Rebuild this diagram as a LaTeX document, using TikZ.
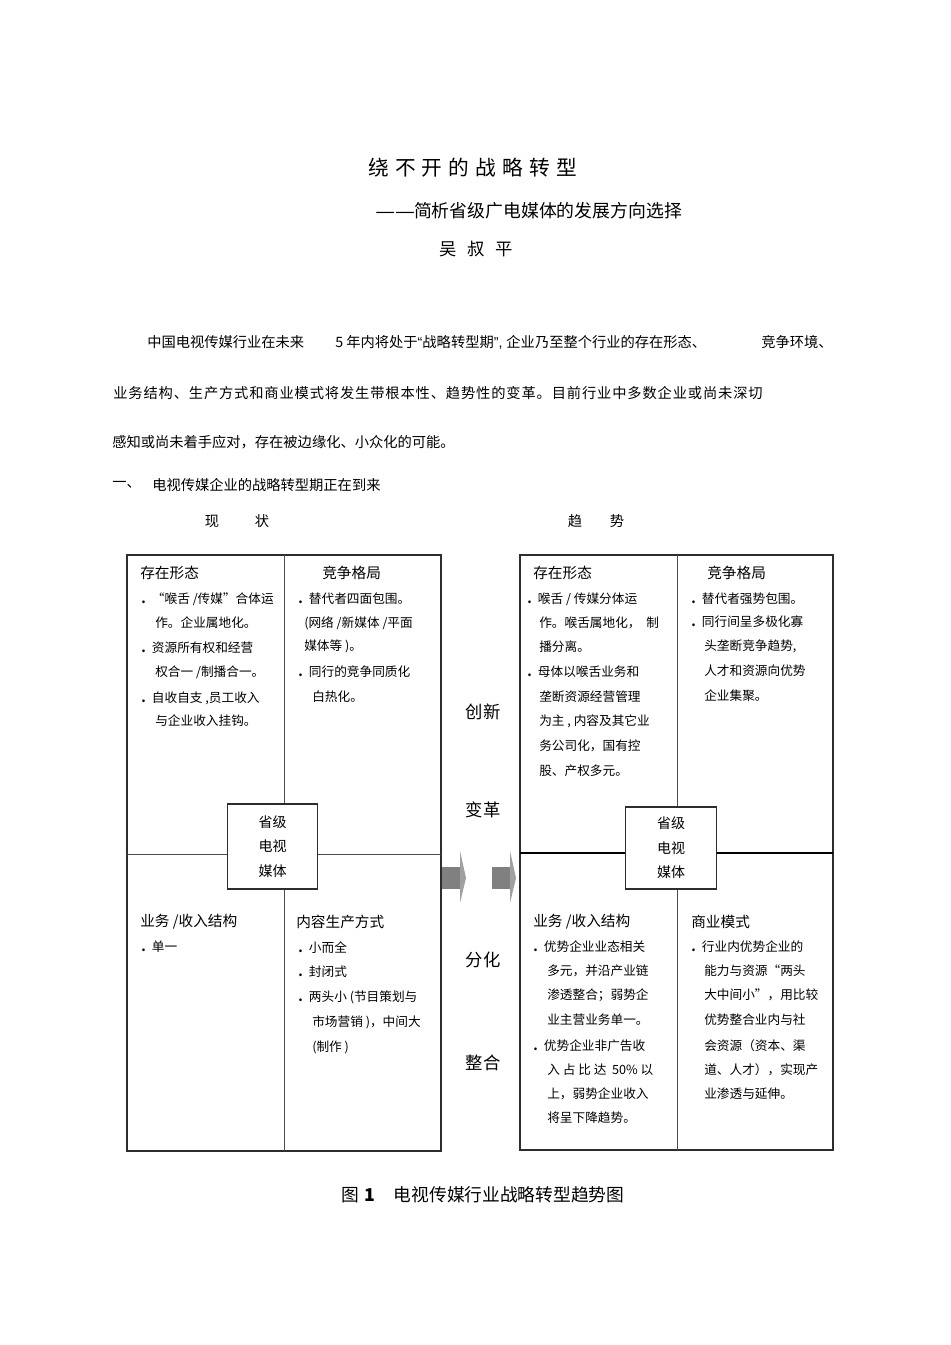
\documentclass[tikz,border=0pt]{standalone}
\usepackage{fontspec}
\setmainfont{Noto Sans CJK SC}
\newfontfamily\titlefont[LetterSpace=30]{Noto Sans CJK SC}
\newfontfamily\widefont[LetterSpace=6]{Noto Sans CJK SC}
\newfontfamily\latinfont{Liberation Sans}
\definecolor{rulegray}{RGB}{45,45,45}
\definecolor{arrowgray}{RGB}{128,128,128}
\usetikzlibrary{positioning}
\newcommand{\itm}{\makebox[8pt][l]{\textbf{.}}}

\begin{document}
\begin{tikzpicture}[x=0.75pt, y=-0.75pt,
    every node/.style={inner sep=0pt},
    para/.style={anchor=west, font=\fontsize{10.7}{13}\selectfont},
    boxtxt/.style={anchor=west, font=\fontsize{9.5}{11}\selectfont},
    boxhead/.style={anchor=west, font=\fontsize{11}{13}\selectfont},
    midlbl/.style={font=\fontsize{13}{15}\selectfont},
    core/.style={draw=rulegray, line width=0.9pt, fill=white, minimum width=68pt, align=center, font=\fontsize{10.5}{18.4}\selectfont},
    boxframe/.style={draw=rulegray, line width=0.9pt},
    divider/.style={draw=rulegray!85, line width=0.6pt}]
    \useasboundingbox (0,0) rectangle (950,1345);
    \fill[white] (0,0) rectangle (950,1345);

    \node[anchor=west, font=\fontsize{15.5}{18}\selectfont] (title) at (368,168) {\titlefont 绕不开的战略转型};
    \node[anchor=west, font=\fontsize{13.4}{16}\selectfont] (subtitle) at (376,211) {{\latinfont —\hspace{1.5pt}—}简析省级广电媒体的发展方向选择};
    \node[anchor=west, font=\fontsize{13}{16}\selectfont] (author) at (439,249) {吴\hspace{8pt}叔\hspace{8pt}平};

    \node[para] (p1a) at (147,342) {中国电视传媒行业在未来};
    \node[para] (p1b) at (335,342) {5 年内将处于{\latinfont “}战略转型期{\latinfont ”, }企业乃至整个行业的存在形态、};
    \node[para, anchor=east] (p1c) at (833,342) {竞争环境、};
    \node[para] (p2) at (113,393) {\widefont 业务结构、生产方式和商业模式将发生带根本性、趋势性的变革。目前行业中多数企业或尚未深切};
    \node[para] (p3) at (112,442) {感知或尚未着手应对，存在被边缘化、小众化的可能。};
    \node[para] (p4a) at (112,485) {一、};
    \node[para] (p4b) at (152,485) {电视传媒企业的战略转型期正在到来};

    \node[para, anchor=center] (now) at (237,521) {现\hspace{26.8pt}状};
    \node[para, anchor=center] (trend) at (596,521) {趋\hspace{20.8pt}势};

    \draw[boxframe] (127,555) rectangle (441,1151);
    \draw[divider] (284,555) -- (284,1151);
    \draw[divider] (127,854) -- (441,854);
    \draw[boxframe] (520,555) rectangle (833,1150);
    \draw[divider] (677,555) -- (677,1150);
    \draw[draw=black, line width=1.5pt] (520,853) -- (833,853);

    \node[core, minimum height=63.75pt] (lcore) at (272.5,846.5) {省级\\电视\\媒体};
    \node[core, minimum height=61.5pt] (rcore) at (671,848) {省级\\电视\\媒体};

    \node[boxhead] (lh1) at (140,573) {存在形态};
    \node[boxhead] (lh2) at (322,573) {竞争格局};
    \node[boxhead] (lh3) at (140,922) {业务 /收入结构};
    \node[boxhead] (lh4) at (296,922) {内容生产方式};
    \node[boxhead] (rh1) at (533,573) {存在形态};
    \node[boxhead] (rh2) at (707,573) {竞争格局};
    \node[boxhead] (rh3) at (533,922) {业务 /收入结构};
    \node[boxhead] (rh4) at (691,922) {商业模式};

    \foreach \xx/\yy/\t [count=\i] in {141/599/{\itm “喉舌 /传媒”合体运}, 155/623/{作。企业属地化。},
        141/648/{\itm 资源所有权和经营}, 155/672/{权合一 /制播合一。},
        141/698/{\itm 自收自支 ,员工收入}, 155/721/{与企业收入挂钩。}}
        \node[boxtxt] (ltl\i) at (\xx,\yy) {\t};
    \foreach \xx/\yy/\t [count=\i] in {298/599/{\itm 替代者四面包围。}, 304/623/{(网络 /新媒体 /平面},
        304/646/{媒体等 )。}, 298/672/{\itm 同行的竞争同质化}, 312/697/{白热化。}}
        \node[boxtxt] (ltr\i) at (\xx,\yy) {\t};
    \node[boxtxt] (lbl1) at (141,947) {\itm 单一};
    \foreach \xx/\yy/\t [count=\i] in {298/948/{\itm 小而全}, 298/972/{\itm 封闭式},
        298/997/{\itm 两头小 (节目策划与}, 312/1022/{市场营销 )，中间大}, 312/1047/{(制作 )}}
        \node[boxtxt] (lbr\i) at (\xx,\yy) {\t};

    \foreach \xx/\yy/\t [count=\i] in {527/599/{\itm 喉舌 / 传媒分体运}, 539/623/{作。喉舌属地化，\ \ 制},
        539/647/{播分离。}, 527/672/{\itm 母体以喉舌业务和}, 539/697/{垄断资源经营管理},
        539/721/{为主 , 内容及其它业}, 539/746/{务公司化，国有控}, 539/771/{股、产权多元。}}
        \node[boxtxt] (rtl\i) at (\xx,\yy) {\t};
    \foreach \xx/\yy/\t [count=\i] in {691/599/{\itm 替代者强势包围。}, 691/622/{\itm 同行间呈多极化寡},
        704/646/{头垄断竞争趋势,}, 704/671/{人才和资源向优势}, 704/696/{企业集聚。}}
        \node[boxtxt] (rtr\i) at (\xx,\yy) {\t};
    \foreach \xx/\yy/\t [count=\i] in {533/947/{\itm 优势企业业态相关}, 547/971/{多元，并沿产业链},
        547/995/{渗透整合；弱势企}, 547/1020/{业主营业务单一。}, 533/1046/{\itm 优势企业非广告收},
        547/1070/{入 占 比 达\ \ 50\% 以}, 547/1094/{上，弱势企业收入}, 547/1118/{将呈下降趋势。}}
        \node[boxtxt] (rbl\i) at (\xx,\yy) {\t};
    \foreach \xx/\yy/\t [count=\i] in {691/947/{\itm 行业内优势企业的}, 704/971/{能力与资源“两头},
        704/995/{大中间小”，用比较}, 704/1020/{优势整合业内与社}, 704/1046/{会资源（资本、渠},
        704/1070/{道、人才），实现产}, 704/1094/{业渗透与延伸。}}
        \node[boxtxt] (rbr\i) at (\xx,\yy) {\t};

    \node[midlbl] (chuangxin) at (483,712) {创新};
    \node[midlbl] (biange) at (483,810) {变革};
    \node[midlbl] (fenhua) at (483,960) {分化};
    \node[midlbl] (zhenghe) at (483,1063) {整合};

    \fill[arrowgray] (442,867) rectangle (460,889);
    \fill[arrowgray!75] (460,851) -- (466,878) -- (460,903) -- cycle;
    \fill[arrowgray] (492,867) rectangle (510,889);
    \fill[arrowgray!75] (510,851) -- (516,878) -- (510,903) -- cycle;

    \node[anchor=west, font=\fontsize{13.3}{16}\selectfont] (caption) at (341,1195) {图\hspace{4pt}\textbf{1}\hspace{14pt}电视传媒行业战略转型趋势图};
\end{tikzpicture}
\end{document}
